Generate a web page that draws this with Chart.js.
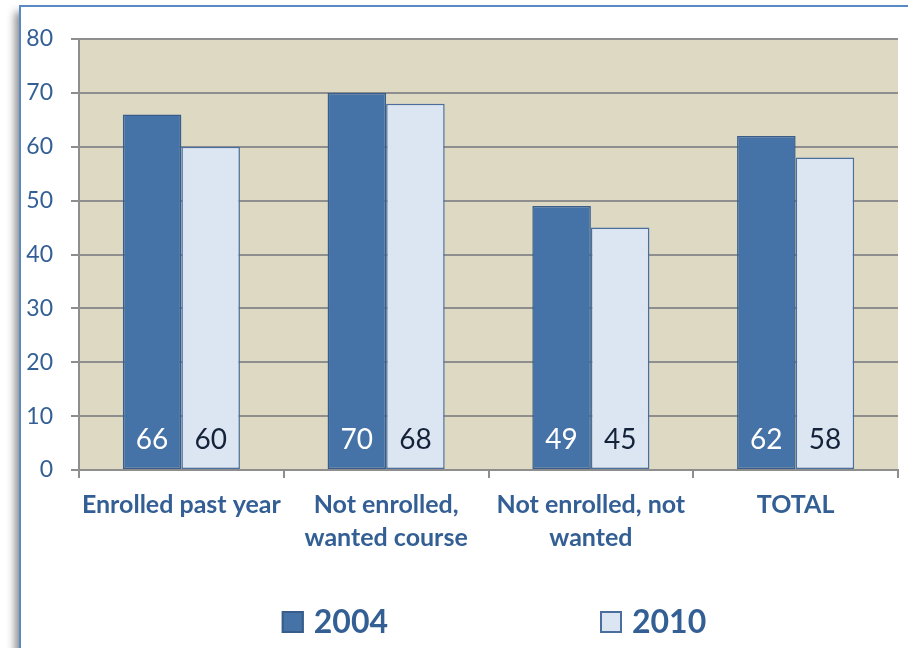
<!DOCTYPE html>
<html><head><meta charset="utf-8">
<script src="https://cdn.jsdelivr.net/npm/chart.js@4/dist/chart.umd.min.js"></script>
<style>html,body{margin:0;padding:0;background:#fff;}</style>
</head><body>
<canvas id="c" width="908" height="648"></canvas>
<script>
const categories = [["Enrolled past year"], ["Not enrolled,", "wanted course"], ["Not enrolled, not", "wanted"], ["TOTAL"]];
const seriesNames = ["2004", "2010"];
const values2004 = [66, 70, 49, 62];
const values2010 = [60, 68, 45, 58];
const yMin = 0, yMax = 80, yStep = 10;

const FONT = "Lato";
const TEXT_BLUE = "#335f95";

const bgPlugin = {
  id: "bg",
  beforeDraw(chart) {
    const ctx = chart.ctx, a = chart.chartArea;
    ctx.save();
    ctx.fillStyle = "#fff";
    ctx.fillRect(0, 0, chart.width, chart.height);
    ctx.shadowColor = "rgba(0,0,0,0.45)";
    ctx.shadowBlur = 8;
    ctx.shadowOffsetX = -5;
    ctx.shadowOffsetY = 6;
    ctx.fillRect(20, 6, 1200, 1200);
    ctx.restore();
    ctx.save();
    ctx.strokeStyle = "#5a8ac6";
    ctx.lineWidth = 2;
    ctx.beginPath();
    ctx.moveTo(20, 700); ctx.lineTo(20, 6); ctx.lineTo(960, 6);
    ctx.stroke();
    ctx.fillStyle = "#ddd9c3";
    ctx.fillRect(a.left, a.top, a.right - a.left, a.bottom - a.top);
    ctx.restore();
  }
};

const valueLabelPlugin = {
  id: "valueLabels",
  afterDatasetsDraw(chart) {
    const ctx = chart.ctx, yb = chart.scales.y.getPixelForValue(0);
    const colors = ["#ffffff", "#14233a"];
    ctx.save();
    ctx.font = "28px " + FONT;
    ctx.textAlign = "center";
    ctx.textBaseline = "middle";
    chart.data.datasets.forEach((ds, i) => {
      chart.getDatasetMeta(i).data.forEach((el, j) => {
        ctx.fillStyle = colors[i];
        ctx.fillText(String(ds.data[j]), el.x, yb - 30);
      });
    });
    ctx.restore();
  }
};

const legendPlugin = {
  id: "customLegend",
  afterDraw(chart) {
    const ctx = chart.ctx;
    ctx.save();
    ctx.font = "bold 32px " + FONT;
    ctx.textBaseline = "middle";
    const box = 22, gap = 10, itemGap = 212;
    const items = chart.data.datasets.map(ds => ({ ds, w: box + gap + ctx.measureText(ds.label).width }));
    const total = items.reduce((s, it) => s + it.w, 0) + itemGap * (items.length - 1);
    let x = 494 - total / 2;
    const cy = 622;
    items.forEach(it => {
      ctx.fillStyle = it.ds.backgroundColor;
      ctx.strokeStyle = it.ds.borderColor;
      ctx.lineWidth = 2;
      ctx.fillRect(x, cy - box / 2, box, box);
      ctx.strokeRect(x + 1, cy - box / 2 + 1, box - 2, box - 2);
      ctx.fillStyle = TEXT_BLUE;
      ctx.textAlign = "left";
      ctx.fillText(it.ds.label, x + box + gap, cy + 1);
      x += it.w + itemGap;
    });
    ctx.restore();
  }
};

new Chart(document.getElementById("c"), {
  type: "bar",
  data: {
    labels: categories,
    datasets: [
      { label: seriesNames[0], data: values2004, backgroundColor: "#4572a7", borderColor: "#385d8a", borderWidth: 1.5, borderSkipped: false, categoryPercentage: 0.572, barPercentage: 1 },
      { label: seriesNames[1], data: values2010, backgroundColor: "#dce6f2", borderColor: "#4a6f9e", borderWidth: 1.5, borderSkipped: false, categoryPercentage: 0.572, barPercentage: 1 }
    ]
  },
  options: {
    responsive: false,
    devicePixelRatio: 1,
    animation: false,
    layout: { padding: { left: 0, top: 39, right: 10, bottom: 78 } },
    plugins: { legend: { display: false }, tooltip: { enabled: false } },
    scales: {
      x: {
        grid: { offset: true, drawOnChartArea: false, drawTicks: true, tickLength: 8, color: "#8e8e8e", lineWidth: 2 },
        border: { color: "#8e8e8e", width: 2 },
        ticks: { color: TEXT_BLUE, font: { family: FONT, size: 25, weight: "bold", lineHeight: 1.32 }, padding: 10, maxRotation: 0, autoSkip: false },
        afterFit(s) { s.height = 100; }
      },
      y: {
        min: yMin, max: yMax,
        grid: { color: "#8e8e8e", lineWidth: 2, tickLength: 8 },
        border: { color: "#8e8e8e", width: 2 },
        ticks: { stepSize: yStep, color: TEXT_BLUE, font: { family: FONT, size: 23 }, padding: 18 },
        afterFit(s) { s.width = 79; }
      }
    }
  },
  plugins: [bgPlugin, valueLabelPlugin, legendPlugin]
});
</script>
</body></html>
